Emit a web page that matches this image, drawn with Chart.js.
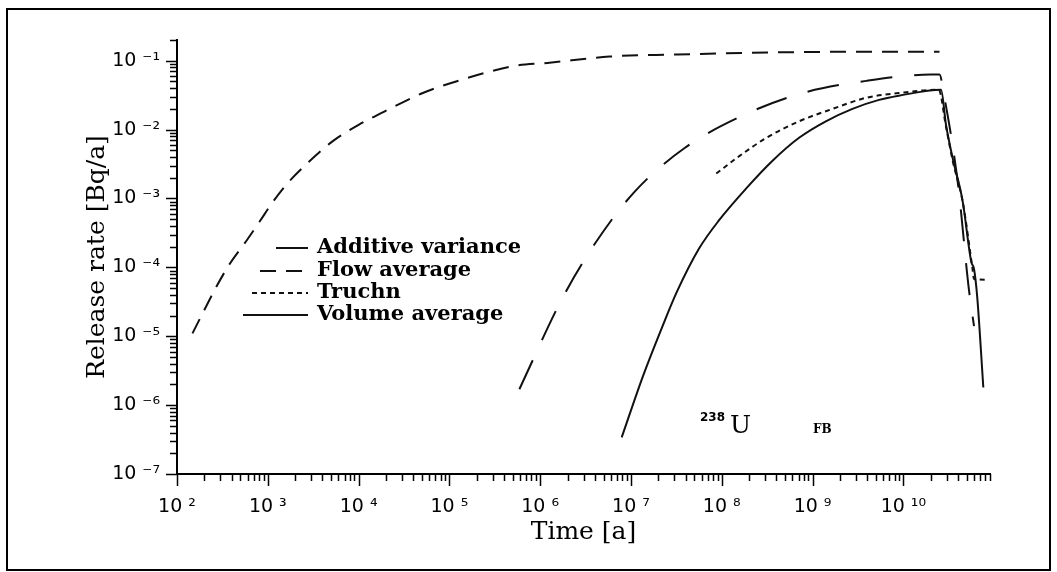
<!DOCTYPE html>
<html>
<head>
<meta charset="utf-8">
<title>238U release rate</title>
<script src="https://cdn.jsdelivr.net/npm/chart.js@4.4.1/dist/chart.umd.min.js"></script>
<style>
  html, body { margin: 0; padding: 0; background: #fff; }
  canvas { display: block; }
</style>
</head>
<body>
<canvas id="release-chart" width="1057" height="572"></canvas>
<script>
// axis ranges
const xMin = 1e2, xMax = 9e10;
const yMin = 1e-7, yMax = 0.2;

// time [a] and release rate [Bq/a] per model
const additiveTime = [5.9e5, 1.74e6, 4.0e6, 1.1e7, 3.9e7, 1.66e8, 7.8e8, 3.9e9, 2.0e10, 2.5e10, 2.8e10, 4.0e10, 5.25e10, 6.0e10];
const additiveRate = [1.7e-6, 3.5e-5, 2.2e-4, 1.26e-3, 5.4e-3, 1.58e-2, 3.4e-2, 5.1e-2, 6.3e-2, 6.3e-2, 3.2e-2, 1.6e-3, 5e-5, 1.4e-5];

const flowTime = [1.48e2, 2.75e2, 3.8e2, 5.9e2, 8.1e2, 1.15e3, 1.74e3, 2.9e3, 5.2e3, 1.0e4, 2.2e4, 5.1e4, 1.3e5, 5.5e5, 1.2e6, 5.8e6, 3.2e7, 3.6e8, 4.2e9, 2.5e10];
const flowRate = [1.1e-5, 5.4e-5, 1.12e-4, 2.5e-4, 4.6e-4, 9.1e-4, 1.8e-3, 3.5e-3, 6.8e-3, 1.17e-2, 2.0e-2, 3.4e-2, 5.2e-2, 8.5e-2, 9.3e-2, 0.115, 0.123, 0.132, 0.135, 0.135];

const truchnTime = [8.7e7, 1.55e8, 3.1e8, 7.1e8, 1.66e9, 3.9e9, 8.9e9, 2.45e10, 2.95e10, 3.5e10, 4.5e10, 5.75e10, 6.0e10, 8.7e10];
const truchnRate = [2.3e-3, 4.1e-3, 7.6e-3, 1.32e-2, 2.0e-2, 2.9e-2, 3.4e-2, 3.8e-2, 1.1e-2, 3.5e-3, 9e-4, 1e-4, 6.8e-5, 6.6e-5];

const volumeTime = [7.9e6, 1.35e7, 2.2e7, 3.2e7, 5.6e7, 9.3e7, 1.86e8, 3.6e8, 7.1e8, 1.4e9, 2.75e9, 5.4e9, 8.9e9, 2.6e10, 2.95e10, 3.5e10, 4.5e10, 5.6e10, 6.0e10, 6.5e10, 7.6e10];
const volumeRate = [3.4e-7, 2.6e-6, 1.35e-5, 4.4e-5, 1.86e-4, 4.8e-4, 1.4e-3, 3.5e-3, 7.6e-3, 1.32e-2, 2.0e-2, 2.7e-2, 3.1e-2, 3.8e-2, 1.17e-2, 3.8e-3, 9.1e-4, 1.2e-4, 9.5e-5, 3.8e-5, 1.8e-6];

const seriesNames = ['Additive variance', 'Flow average', 'Truchn', 'Volume average'];

const serif = "'DejaVu Serif', serif";
const sans = "'DejaVu Sans', sans-serif";

const SUP = { '-': '\u207B', '0': '\u2070', '1': '\u00B9', '2': '\u00B2', '3': '\u00B3', '4': '\u2074',
  '5': '\u2075', '6': '\u2076', '7': '\u2077', '8': '\u2078', '9': '\u2079' };

function isDecade(v) {
  const l = Math.log10(v);
  return Math.abs(l - Math.round(l)) < 1e-6;
}

function powLabel(v) {
  if (!isDecade(v)) return '';
  const e = String(Math.round(Math.log10(v)));
  return '10 ' + e.split('').map(c => SUP[c]).join('');
}

// 1..9 x 10^n inside [min, max]
function decadeTicks(min, max) {
  const out = [];
  for (let e = Math.floor(Math.log10(min)); e <= Math.ceil(Math.log10(max)); e++) {
    for (let m = 1; m <= 9; m++) {
      const v = m * Math.pow(10, e);
      if (v >= min * 0.999 && v <= max * 1.001) out.push({ value: v, major: m === 1 });
    }
  }
  return out;
}

function toPoints(xs, ys) {
  return xs.map((x, i) => ({ x: x, y: ys[i] }));
}

function lineSet(label, xs, ys, dash) {
  return {
    label: label,
    data: toPoints(xs, ys),
    borderColor: '#111',
    borderWidth: 2,
    borderDash: dash,
    pointRadius: 0,
    fill: false,
    cubicInterpolationMode: 'monotone'
  };
}

// figure frame, outward tick marks, legend and nuclide note
const paperPlugin = {
  id: 'paper',
  beforeDraw(chart) {
    const ctx = chart.ctx;
    ctx.save();
    ctx.fillStyle = '#fff';
    ctx.fillRect(0, 0, chart.width, chart.height);
    ctx.strokeStyle = '#000';
    ctx.lineWidth = 2;
    ctx.strokeRect(7, 9, 1043, 561);
    ctx.restore();
  },
  afterDraw(chart) {
    const ctx = chart.ctx;
    const area = chart.chartArea;
    const xs = chart.scales.x, ys = chart.scales.y;
    ctx.save();
    ctx.strokeStyle = '#000';
    ctx.lineWidth = 1.5;
    ctx.beginPath();
    xs.ticks.forEach(t => {
      const px = Math.round(xs.getPixelForValue(t.value)) + 0.5;
      const len = isDecade(t.value) ? 12 : 7;
      ctx.moveTo(px, area.bottom);
      ctx.lineTo(px, area.bottom + len);
    });
    ys.ticks.forEach(t => {
      const py = Math.round(ys.getPixelForValue(t.value)) + 0.5;
      const len = isDecade(t.value) ? 11 : 7;
      ctx.moveTo(area.left, py);
      ctx.lineTo(area.left - len, py);
    });
    ctx.stroke();

    // legend
    const sampleLen = [32, 48, 56, 65];
    const lineEnd = 308, textX = 317;
    const rowY = [248, 271, 293, 315];
    chart.data.datasets.forEach((ds, i) => {
      ctx.lineWidth = 2;
      ctx.strokeStyle = '#111';
      ctx.setLineDash(ds.borderDash || []);
      ctx.beginPath();
      ctx.moveTo(lineEnd - sampleLen[i], rowY[i]);
      ctx.lineTo(lineEnd, rowY[i]);
      ctx.stroke();
      ctx.setLineDash([]);
      ctx.fillStyle = '#000';
      ctx.font = 'bold 21px ' + serif;
      ctx.textBaseline = 'middle';
      ctx.textAlign = 'left';
      ctx.fillText(seriesNames[i], textX, rowY[i]);
    });

    // nuclide and case tag
    ctx.fillStyle = '#000';
    ctx.textBaseline = 'alphabetic';
    ctx.font = 'bold 12px ' + sans;
    ctx.fillText('238', 700, 421);
    ctx.font = '25px ' + serif;
    ctx.fillText('U', 730, 433);
    ctx.font = 'bold 12px ' + serif;
    ctx.fillText('FB', 813, 433);
    ctx.restore();
  }
};

new Chart(document.getElementById('release-chart'), {
  type: 'line',
  data: {
    datasets: [
      lineSet(seriesNames[0], additiveTime, additiveRate, [32, 22]),
      lineSet(seriesNames[1], flowTime, flowRate, [16, 10]),
      lineSet(seriesNames[2], truchnTime, truchnRate, [5, 4]),
      lineSet(seriesNames[3], volumeTime, volumeRate, [])
    ]
  },
  options: {
    responsive: false,
    animation: false,
    layout: { padding: { left: 80, top: 40, right: 67, bottom: 0 } },
    plugins: {
      legend: { display: false },
      tooltip: { enabled: false }
    },
    scales: {
      x: {
        type: 'logarithmic',
        min: xMin,
        max: xMax,
        afterBuildTicks: s => { s.ticks = decadeTicks(xMin, xMax); },
        afterFit: s => { s.height = 98; },
        grid: { drawOnChartArea: false, drawTicks: false },
        border: { display: true, color: '#000', width: 2 },
        ticks: {
          autoSkip: false,
          maxRotation: 0,
          padding: 22,
          color: '#000',
          font: { family: sans, size: 19 },
          callback: v => powLabel(v)
        },
        title: {
          display: true,
          text: 'Time [a]',
          color: '#000',
          font: { family: serif, size: 25 },
          padding: { top: 25, bottom: 25 }
        }
      },
      y: {
        type: 'logarithmic',
        min: yMin,
        max: yMax,
        afterBuildTicks: s => { s.ticks = decadeTicks(yMin, yMax); },
        afterFit: s => { s.width = 97; },
        grid: { drawOnChartArea: false, drawTicks: false },
        border: { display: true, color: '#000', width: 2 },
        ticks: {
          autoSkip: false,
          padding: 17,
          color: '#000',
          font: { family: sans, size: 19 },
          callback: v => powLabel(v)
        },
        title: {
          display: true,
          text: 'Release rate [Bq/a]',
          color: '#000',
          font: { family: serif, size: 25 },
          padding: { top: 2, bottom: 2 }
        }
      }
    }
  },
  plugins: [paperPlugin]
});
</script>
</body>
</html>
